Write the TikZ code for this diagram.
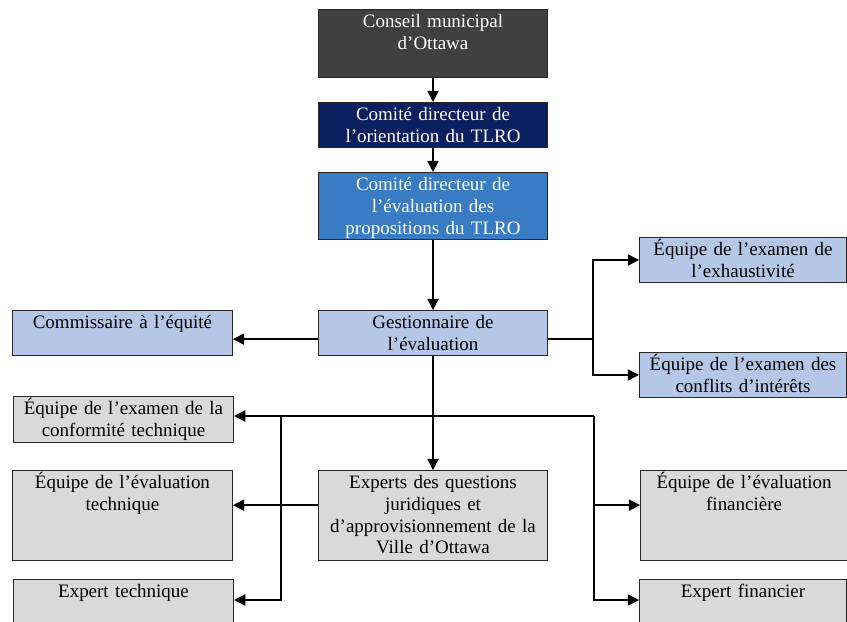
\documentclass[tikz,border=0pt]{standalone}
\usepackage{fontspec}
\setmainfont{Liberation Serif}
\usetikzlibrary{arrows.meta, positioning}
\definecolor{councilbg}{RGB}{64,64,64}
\definecolor{steerbg}{RGB}{12,32,96}
\definecolor{evalbg}{RGB}{58,124,196}
\definecolor{teambg}{RGB}{180,199,231}
\definecolor{expertbg}{RGB}{217,217,217}
\definecolor{boxborder}{RGB}{40,40,40}
\tikzset{
  orgbox/.style={rectangle, draw=boxborder, line width=0.7pt, fill=#1,
                 inner sep=0pt, align=center, text height=13pt,
                 font=\fontsize{13.5}{15.4}\selectfont},
  midcol/.style={text width=5.725cm},
  leftcol/.style={text width=5.5cm},
  rightcol/.style={text width=5.175cm},
  arrowstyle/.style={-{Triangle[length=8pt, width=8pt]}, line width=1pt, color=black},
}

\begin{document}
\begin{tikzpicture}[x=0.025cm, y=-0.025cm]
  \useasboundingbox (0,0) rectangle (847,622);
  \clip (0,0) rectangle (847,622);
  % central column
  \node[orgbox=councilbg, midcol, text=white, text depth=35.4pt, anchor=north west] (council) at (318,9)
    {Conseil municipal\\d’Ottawa};
  \node[orgbox=steerbg, midcol, text=white, text depth=19pt, below=0.6cm of council] (steering)
    {Comité directeur de\\l’orientation du TLRO};
  \node[orgbox=evalbg, midcol, text=white, text depth=34.7pt, below=0.6cm of steering] (evalcomm)
    {Comité directeur de\\l’évaluation des\\propositions du TLRO};
  \node[orgbox=teambg, midcol, text depth=19pt, below=1.75cm of evalcomm] (manager)
    {Gestionnaire de\\l’évaluation};
  \node[orgbox=expertbg, midcol, text depth=51pt, below=2.85cm of manager] (legal)
    {Experts des questions\\juridiques et\\d’approvisionnement de la\\Ville d’Ottawa};
  % left column
  \node[orgbox=teambg, leftcol, text depth=19pt, left=2.125cm of manager] (fairness)
    {Commissaire à l’équité};
  \node[orgbox=expertbg, leftcol, text depth=19.7pt, anchor=north west] (compliance) at (13,396)
    {Équipe de l’examen de la\\conformité technique};
  \node[orgbox=expertbg, leftcol, text depth=51pt, left=2.125cm of legal] (techteam)
    {Équipe de l’évaluation\\technique};
  \node[orgbox=expertbg, leftcol, text depth=37pt, anchor=north west] (techexpert) at (13,579)
    {Expert technique};
  % right column
  \node[orgbox=teambg, rightcol, text depth=19pt, anchor=north west] (completeness) at (639,237)
    {Équipe de l’examen de\\l’exhaustivité};
  \node[orgbox=teambg, rightcol, text depth=19pt, anchor=north west] (conflicts) at (639,352)
    {Équipe de l’examen des\\conflits d’intérêts};
  \node[orgbox=expertbg, rightcol, text depth=51pt, right=2.3cm of legal] (finteam)
    {Équipe de l’évaluation\\financière};
  \node[orgbox=expertbg, rightcol, text depth=37pt, anchor=north west] (finexpert) at (639,579)
    {Expert financier};

  % connectors
  \draw[arrowstyle] (council.south)  -- (steering.north);
  \draw[arrowstyle] (steering.south) -- (evalcomm.north);
  \draw[arrowstyle] (evalcomm.south) -- (manager.north);
  \draw[arrowstyle] ([yshift=-0.725cm]manager.north west) -- ([yshift=-0.725cm]fairness.north east);
  \draw[arrowstyle] ([yshift=-0.725cm]manager.north east) -- ++(1.125cm,0) coordinate (split)
    |- (completeness.west);
  \draw[arrowstyle] (split) |- (conflicts.west);
  \coordinate (rbus) at (594,416);
  \coordinate (lbus) at (281,416);
  \draw[arrowstyle] (rbus) -- (compliance.east |- rbus);
  \draw[arrowstyle] (rbus) |- ([yshift=-0.875cm]finteam.north west);
  \draw[arrowstyle] (rbus) |- ([yshift=-0.525cm]finexpert.north west);
  \draw[arrowstyle] (lbus) |- ([yshift=-0.525cm]techexpert.north east);
  \draw[arrowstyle] (manager.south) -- (legal.north);
  \draw[arrowstyle] ([yshift=-0.875cm]legal.north west) -- ([yshift=-0.875cm]techteam.north east);
\end{tikzpicture}
\end{document}
